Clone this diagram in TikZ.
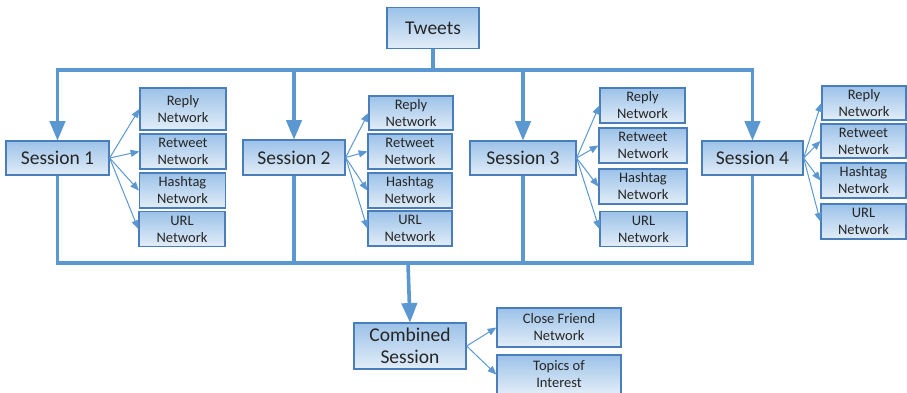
\documentclass[tikz,border=0pt]{standalone}
\usepackage{fontspec}
\setmainfont{Carlito}
\usepackage{tikz}
\usetikzlibrary{arrows}

\definecolor{boxline}{HTML}{4A7EBB}
\definecolor{boxtop}{HTML}{9CC2E8}
\definecolor{boxbot}{HTML}{E2EDF8}
\definecolor{trunkc}{HTML}{5B97D1}

\begin{document}
\begin{tikzpicture}
		[x=1pt,y=-1pt,
		box/.style= {draw=boxline,line width=1.3pt,top color=boxtop,bottom color=boxbot,align=center,inner sep=0pt,text=black!85},
		big/.style= {box,font=\fontsize{19.5}{22}\selectfont},
		net/.style= {box,minimum width=86,minimum height=35,font=\fontsize{14.5}{17}\selectfont},
		trunk/.style= {draw=trunkc,line width=3.6pt},
		tip/.style= {trunk,-{triangle 45[scale=0.6]}},
		twig/.style= {draw=trunkc,line width=1pt,-{triangle 45[scale=1.8]}}]

		\clip (0,0) rectangle (907,392);

		\node[big,minimum width=92,minimum height=41] (tw) at (433,28) {Tweets};
		\coordinate (top) at (433,70);
		\coordinate (bot) at (408,263);

		\node[big,minimum width=103,minimum height=34] (s1) at (57.5,158) {Session 1};
		\node[big,minimum width=102,minimum height=35] (s2) at (294,157.5) {Session 2};
		\node[big,minimum width=106,minimum height=34] (s3) at (523,158) {Session 3};
		\node[big,minimum width=101,minimum height=34] (s4) at (752.5,158) {Session 4};

		\node[big,minimum width=112,minimum height=46] (cs) at (410,346) {Combined\\Session};

		% session 1
		\node[net,minimum height=42] (r1) at (183,109) {Reply\\Network};
		\node[net] (rt1) at (183,151.5) {Retweet\\Network};
		\node[net] (h1) at (182.5,190.5) {Hashtag\\Network};
		\node[net] (u1) at (182,229) {URL\\Network};

		% session 2
		\node[net,minimum width=84,minimum height=34] (r2) at (411,113) {Reply\\Network};
		\node[net,minimum width=84] (rt2) at (410,151.5) {Retweet\\Network};
		\node[net,minimum width=84] (h2) at (410,190.5) {Hashtag\\Network};
		\node[net,minimum width=84] (u2) at (410,228.5) {URL\\Network};

		% session 3
		\node[net,minimum width=85] (r3) at (642.5,105.5) {Reply\\Network};
		\node[net,minimum width=88] (rt3) at (643,145.5) {Retweet\\Network};
		\node[net,minimum width=88] (h3) at (643,186.5) {Hashtag\\Network};
		\node[net,minimum width=87] (u3) at (643.5,229) {URL\\Network};

		% session 4
		\node[net,minimum width=84,minimum height=34] (r4) at (864,103) {Reply\\Network};
		\node[net,minimum width=85,minimum height=34] (rt4) at (863.5,141) {Retweet\\Network};
		\node[net,minimum width=85] (h4) at (863.5,180.5) {Hashtag\\Network};
		\node[net,minimum width=85] (u4) at (863.5,221.5) {URL\\Network};

		% combined
		\node[net,minimum width=124,minimum height=39] (cf) at (559,327.5) {Close Friend\\Network};
		\node[net,minimum width=124,minimum height=39] (ti) at (559,374.5) {Topics of\\Interest};

		% thick bracket lines
		\draw[trunk] (tw.south) -- (top);
		\draw[tip] (top) -| (s1.north);
		\draw[tip] (top) -| (s2.north);
		\draw[tip] (top) -| (s3.north);
		\draw[tip] (top) -| (s4.north);
		\draw[trunk] (s1.south) |- (bot);
		\draw[trunk] (s2.south) |- (bot);
		\draw[trunk] (s3.south) |- (bot);
		\draw[trunk] (s4.south) |- (bot);
		\draw[tip] (bot) -- (cs.north);

		% thin arrows
		\foreach \s/\a/\b/\c/\d in {s1/r1/rt1/h1/u1, s2/r2/rt2/h2/u2, s3/r3/rt3/h3/u3, s4/r4/rt4/h4/u4}
		{
			\draw[twig] (\s.east) -- (\a.west);
			\draw[twig] (\s.east) -- (\b.west);
			\draw[twig] (\s.east) -- (\c.west);
			\draw[twig] (\s.east) -- (\d.west);
		}
		\draw[twig] (cs.east) -- (cf.west);
		\draw[twig] (cs.east) -- (ti.west);

	\end{tikzpicture}
\end{document}
